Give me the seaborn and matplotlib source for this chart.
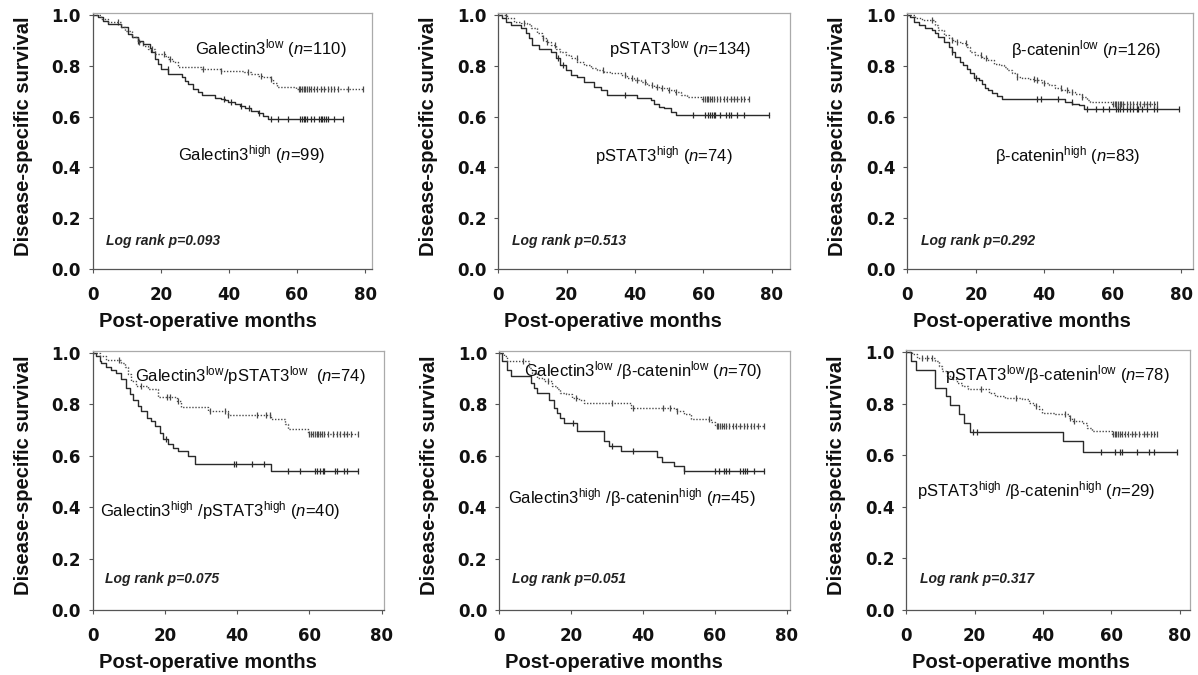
import numpy as np
import pandas as pd
import matplotlib
matplotlib.use("Agg")
import matplotlib.pyplot as plt
import seaborn as sns

sns.set_theme(style="white")
plt.rcParams["font.family"] = ["Liberation Sans", "DejaVu Sans"]
plt.rcParams["mathtext.fontset"] = "custom"
plt.rcParams["mathtext.rm"] = "Liberation Sans"
plt.rcParams["mathtext.it"] = "Liberation Sans:italic"
plt.rcParams["mathtext.bf"] = "Liberation Sans:bold"

# ---------------- data ----------------
x_ticks = [0, 20, 40, 60, 80]
y_ticks = [0.0, 0.2, 0.4, 0.6, 0.8, 1.0]
x_title = "Post-operative months"
y_title = "Disease-specific survival"

# Panel 1: Galectin3
gal_low_t = [0, 2.5, 4.5, 8.4, 9.4, 11.4, 13.3, 14.8, 16.3, 18.2, 21.2, 22.1, 23.6, 25.1, 31.9, 37.8, 44.5, 46.6, 48.6, 49.6, 52.0, 53.0, 54.0, 59.8, 79.4]
gal_low_s = [1.0, 0.984, 0.974, 0.951, 0.938, 0.912, 0.892, 0.879, 0.866, 0.846, 0.839, 0.826, 0.816, 0.797, 0.787, 0.780, 0.776, 0.767, 0.761, 0.754, 0.747, 0.732, 0.718, 0.708, 0.708]
gal_low_cens = [7.4, 13.5, 17.5, 21.0, 22.6, 32.5, 37.8, 45.6, 49.5, 52.5, 60.5, 61.0, 61.5, 62.0, 62.5, 63.0, 63.5, 64.0, 65.0, 66.0, 67.0, 68.0, 69.0, 70.0, 71.0, 72.0, 75.0, 79.4]
gal_high_t = [0, 1.6, 3.0, 4.5, 8.4, 10.4, 11.4, 13.3, 14.8, 16.7, 17.2, 18.2, 19.2, 20.2, 22.1, 26.1, 27.0, 28.0, 29.5, 31.0, 32.0, 35.8, 37.8, 38.8, 39.8, 41.7, 43.2, 44.7, 46.6, 48.6, 50.0, 51.6, 73.6]
gal_high_s = [1.0, 0.991, 0.978, 0.964, 0.951, 0.925, 0.912, 0.899, 0.886, 0.872, 0.853, 0.826, 0.807, 0.787, 0.767, 0.754, 0.741, 0.728, 0.708, 0.695, 0.684, 0.675, 0.671, 0.666, 0.658, 0.649, 0.642, 0.632, 0.622, 0.613, 0.603, 0.592, 0.592]
gal_high_cens = [13.3, 22.0, 38.5, 40.5, 43.5, 46.0, 49.0, 52.5, 54.5, 57.5, 61.0, 61.5, 62.0, 62.5, 63.0, 64.0, 65.0, 66.5, 67.0, 67.5, 68.0, 68.5, 69.0, 71.0, 73.6]

# Panel 2: pSTAT3
st_low_t = [0, 2.6, 4.6, 6.5, 8.5, 9.5, 11.4, 12.9, 13.9, 15.3, 16.8, 18.2, 19.7, 21.2, 23.1, 25.1, 27.0, 29.0, 30.9, 32.9, 35.8, 37.8, 39.7, 41.7, 43.6, 45.6, 47.0, 49.5, 51.4, 53.4, 55.3, 59.2, 73.4]
st_low_s = [1.0, 0.987, 0.974, 0.967, 0.963, 0.947, 0.928, 0.908, 0.895, 0.882, 0.868, 0.855, 0.842, 0.829, 0.816, 0.803, 0.792, 0.783, 0.776, 0.770, 0.763, 0.750, 0.743, 0.737, 0.726, 0.717, 0.711, 0.704, 0.695, 0.684, 0.678, 0.671, 0.671]
st_low_cens = [2.2, 7.5, 13.0, 14.2, 16.5, 23.0, 30.5, 37.0, 39.0, 40.5, 43.0, 45.0, 46.5, 48.0, 50.0, 52.0, 60.0, 60.5, 61.0, 61.5, 62.0, 62.5, 63.0, 64.0, 65.0, 66.0, 67.0, 68.0, 69.0, 70.0, 71.0, 72.0, 73.4]
st_high_t = [0, 1.2, 2.2, 3.6, 6.5, 8.0, 9.0, 10.0, 11.9, 15.3, 16.8, 18.2, 19.7, 21.2, 23.1, 25.1, 28.0, 30.0, 31.9, 40.7, 44.6, 45.6, 47.0, 48.5, 50.4, 51.9, 79.2]
st_high_s = [1.0, 0.987, 0.974, 0.961, 0.947, 0.928, 0.908, 0.882, 0.868, 0.855, 0.829, 0.803, 0.783, 0.763, 0.757, 0.737, 0.717, 0.704, 0.684, 0.674, 0.664, 0.651, 0.638, 0.632, 0.618, 0.608, 0.608]
st_high_cens = [17.5, 19.0, 37.0, 57.0, 60.5, 61.5, 62.0, 62.5, 63.0, 63.5, 65.0, 66.5, 67.5, 68.0, 70.0, 72.0, 79.2]

# Panel 3: beta-catenin
bc_low_t = [0, 2.3, 4.3, 8.2, 9.1, 10.6, 12.1, 13.0, 14.0, 16.0, 17.4, 18.4, 19.9, 21.8, 23.7, 25.2, 26.7, 28.1, 29.1, 30.6, 32.0, 33.5, 35.4, 37.4, 39.3, 41.3, 43.2, 45.2, 47.1, 49.1, 51.0, 52.5, 53.4, 59.8, 72.9]
bc_low_s = [1.0, 0.989, 0.980, 0.961, 0.941, 0.921, 0.908, 0.901, 0.895, 0.888, 0.875, 0.855, 0.842, 0.829, 0.822, 0.809, 0.803, 0.796, 0.783, 0.770, 0.757, 0.753, 0.747, 0.743, 0.734, 0.724, 0.713, 0.704, 0.697, 0.688, 0.678, 0.664, 0.658, 0.651, 0.651]
bc_low_cens = [7.3, 13.0, 14.5, 17.0, 21.5, 23.0, 32.0, 37.0, 38.0, 40.0, 45.0, 46.5, 48.0, 51.0, 60.0, 60.5, 61.0, 61.5, 62.0, 62.5, 63.0, 64.0, 65.0, 66.0, 67.0, 68.0, 69.0, 70.0, 71.0, 72.0, 72.9]
bc_high_t = [0, 0.9, 1.9, 3.3, 5.3, 7.2, 8.2, 9.1, 10.6, 12.1, 13.0, 14.0, 15.5, 16.4, 17.4, 18.4, 19.4, 20.8, 21.8, 22.8, 23.7, 24.7, 26.2, 27.6, 46.1, 48.1, 50.0, 51.5, 79.2]
bc_high_s = [1.0, 0.993, 0.974, 0.961, 0.947, 0.941, 0.928, 0.914, 0.895, 0.875, 0.855, 0.836, 0.816, 0.803, 0.789, 0.770, 0.750, 0.743, 0.730, 0.711, 0.704, 0.691, 0.682, 0.671, 0.658, 0.651, 0.645, 0.630, 0.630]
bc_high_cens = [13.0, 20.0, 38.0, 39.0, 44.0, 48.0, 52.5, 55.0, 57.0, 59.0, 61.0, 61.5, 62.0, 63.0, 64.0, 65.0, 66.0, 67.0, 67.5, 68.5, 70.0, 72.0, 73.0, 79.2]

# Panel 4: Galectin3 / pSTAT3
gs_low_t = [0, 1.9, 3.8, 7.9, 8.9, 9.8, 10.7, 12.1, 15.3, 18.1, 23.2, 24.5, 31.9, 37.5, 49.4, 53.1, 54.1, 59.6, 73.4]
gs_low_s = [1.0, 0.987, 0.974, 0.960, 0.946, 0.918, 0.892, 0.872, 0.858, 0.830, 0.815, 0.788, 0.775, 0.758, 0.742, 0.722, 0.703, 0.685, 0.685]
gs_low_cens = [7.3, 13.3, 20.5, 21.5, 23.5, 32.5, 36.5, 37.5, 45.5, 48.0, 49.0, 60.0, 60.5, 61.0, 61.5, 62.0, 62.5, 63.0, 63.5, 64.0, 65.0, 66.5, 67.5, 68.5, 69.5, 70.5, 71.5, 73.4]
gs_high_t = [0, 1.0, 1.9, 2.4, 3.8, 5.2, 6.5, 7.9, 9.3, 10.2, 11.2, 12.5, 13.5, 14.9, 16.2, 17.2, 18.5, 19.5, 20.8, 22.2, 23.6, 26.4, 28.2, 49.4, 73.4]
gs_high_s = [1.0, 0.988, 0.969, 0.962, 0.947, 0.934, 0.923, 0.897, 0.865, 0.839, 0.819, 0.794, 0.774, 0.748, 0.735, 0.716, 0.690, 0.664, 0.644, 0.631, 0.618, 0.599, 0.570, 0.540, 0.540]
gs_high_cens = [20.2, 39.0, 39.7, 44.0, 47.5, 54.0, 57.5, 61.5, 62.0, 63.0, 63.7, 64.0, 67.0, 67.5, 69.5, 70.5, 73.4]

# Panel 5: Galectin3 / beta-catenin
gb_low_t = [0, 1.4, 2.3, 8.3, 9.3, 10.7, 12.5, 14.8, 16.2, 17.1, 18.5, 20.4, 22.2, 23.6, 36.6, 49.1, 51.4, 53.3, 59.0, 60.2, 73.7]
gb_low_s = [1.0, 0.987, 0.968, 0.942, 0.923, 0.903, 0.890, 0.871, 0.858, 0.845, 0.839, 0.826, 0.819, 0.806, 0.787, 0.774, 0.762, 0.742, 0.730, 0.716, 0.716]
gb_low_cens = [6.7, 13.5, 21.5, 31.3, 37.3, 45.5, 47.6, 49.5, 58.4, 60.5, 61.0, 61.5, 62.0, 62.5, 63.0, 64.0, 65.0, 66.0, 67.0, 68.0, 69.0, 70.0, 71.0, 72.0, 73.7]
gb_high_t = [0, 0.9, 2.3, 3.2, 8.8, 9.7, 10.7, 13.9, 15.3, 16.2, 17.1, 18.1, 21.8, 29.2, 30.6, 33.8, 44.0, 45.4, 48.7, 51.4, 73.7]
gb_high_s = [1.0, 0.968, 0.935, 0.910, 0.884, 0.865, 0.845, 0.819, 0.787, 0.768, 0.748, 0.729, 0.697, 0.658, 0.639, 0.619, 0.594, 0.574, 0.561, 0.542, 0.542]
gb_high_cens = [20.5, 31.5, 37.3, 51.5, 60.0, 61.3, 62.5, 63.0, 64.0, 67.0, 67.8, 68.5, 69.0, 71.0, 73.7]

# Panel 6: pSTAT3 / beta-catenin
sb_low_t = [0, 1.7, 3.1, 8.5, 9.5, 10.4, 11.9, 13.4, 14.8, 16.3, 18.2, 24.1, 26.0, 29.0, 33.9, 35.8, 37.3, 38.7, 39.7, 43.6, 47.5, 48.5, 51.4, 52.9, 54.3, 60.2, 73.4]
sb_low_s = [1.0, 0.991, 0.978, 0.965, 0.946, 0.926, 0.907, 0.894, 0.881, 0.868, 0.855, 0.843, 0.830, 0.823, 0.817, 0.804, 0.791, 0.778, 0.765, 0.759, 0.746, 0.733, 0.724, 0.707, 0.694, 0.681, 0.681]
sb_low_cens = [4.5, 6.0, 7.5, 22.0, 32.0, 38.0, 46.5, 48.0, 49.0, 60.5, 61.0, 61.5, 62.0, 62.5, 63.0, 64.0, 65.0, 66.0, 67.0, 68.0, 69.5, 70.5, 71.5, 72.5, 73.4]
sb_high_t = [0, 1.5, 2.7, 8.3, 11.5, 12.7, 15.5, 17.0, 18.7, 45.9, 51.7, 79.2]
sb_high_s = [1.0, 0.966, 0.931, 0.862, 0.828, 0.793, 0.759, 0.724, 0.690, 0.655, 0.614, 0.614]
sb_high_cens = [19.5, 20.8, 57.0, 61.0, 62.5, 63.0, 67.5, 71.0, 72.5, 79.2]

label_low = [
    r"Galectin3$^{\mathrm{low}}$ ($\mathit{n}$=110)",
    r"pSTAT3$^{\mathrm{low}}$ ($\mathit{n}$=134)",
    r"β-catenin$^{\mathrm{low}}$ ($\mathit{n}$=126)",
    r"Galectin3$^{\mathrm{low}}$/pSTAT3$^{\mathrm{low}}$  ($\mathit{n}$=74)",
    r"Galectin3$^{\mathrm{low}}$ /β-catenin$^{\mathrm{low}}$ ($\mathit{n}$=70)",
    r"pSTAT3$^{\mathrm{low}}$/β-catenin$^{\mathrm{low}}$ ($\mathit{n}$=78)",
]
label_high = [
    r"Galectin3$^{\mathrm{high}}$ ($\mathit{n}$=99)",
    r"pSTAT3$^{\mathrm{high}}$ ($\mathit{n}$=74)",
    r"β-catenin$^{\mathrm{high}}$ ($\mathit{n}$=83)",
    r"Galectin3$^{\mathrm{high}}$ /pSTAT3$^{\mathrm{high}}$ ($\mathit{n}$=40)",
    r"Galectin3$^{\mathrm{high}}$ /β-catenin$^{\mathrm{high}}$ ($\mathit{n}$=45)",
    r"pSTAT3$^{\mathrm{high}}$ /β-catenin$^{\mathrm{high}}$ ($\mathit{n}$=29)",
]
log_rank = ["Log rank p=0.093", "Log rank p=0.513", "Log rank p=0.292",
            "Log rank p=0.075", "Log rank p=0.051", "Log rank p=0.317"]

curves = [
    ((gal_low_t, gal_low_s, gal_low_cens), (gal_high_t, gal_high_s, gal_high_cens)),
    ((st_low_t, st_low_s, st_low_cens), (st_high_t, st_high_s, st_high_cens)),
    ((bc_low_t, bc_low_s, bc_low_cens), (bc_high_t, bc_high_s, bc_high_cens)),
    ((gs_low_t, gs_low_s, gs_low_cens), (gs_high_t, gs_high_s, gs_high_cens)),
    ((gb_low_t, gb_low_s, gb_low_cens), (gb_high_t, gb_high_s, gb_high_cens)),
    ((sb_low_t, sb_low_s, sb_low_cens), (sb_high_t, sb_high_s, sb_high_cens)),
]

# ---------------- layout (pixel geometry of the reference) ----------------
W, H = 1198, 675
# (x0 px, px per month, xmax, y(1.0) px, y(0.0) px)
geom = [
    (92.7, 3.404, 82.0, 15, 269),
    (498.3, 3.417, 85.4, 15, 269),
    (907.3, 3.425, 83.4, 15, 269),
    (92.7, 3.6125, 80.5, 353, 610),
    (499.0, 3.596, 81.0, 353, 610),
    (906.3, 3.417, 83.0, 352, 610),
]
# text positions in data coords: low label, high label, log-rank
txt_low = [(30.0, 0.843), (32.5, 0.843), (30.4, 0.839), (11.7, 0.888), (7.0, 0.908), (11.2, 0.888)]
txt_high = [(25.1, 0.429), (28.3, 0.422), (25.7, 0.422), (2.0, 0.363), (2.6, 0.415), (3.2, 0.441)]
txt_lr = [(3.9, 0.094), (3.9, 0.094), (3.9, 0.094), (3.4, 0.104), (3.5, 0.104), (3.9, 0.104)]

YTOP = 1.007
fig = plt.figure(figsize=(W / 100, H / 100), dpi=100)

def draw_curve(ax, t, s, cens, color, ls, lw):
    df = pd.DataFrame({"t": t, "s": s})
    sns.lineplot(data=df, x="t", y="s", ax=ax, estimator=None, sort=False,
                 drawstyle="steps-post", color=color, linestyle=ls, linewidth=lw)
    t_arr = np.asarray(t)
    s_arr = np.asarray(s)
    idx = np.searchsorted(t_arr, cens, side="right") - 1
    cy = s_arr[idx]
    sns.scatterplot(x=cens, y=cy, ax=ax, marker="|", s=16, color=color,
                    linewidth=0.9, legend=False)

tick_font = dict(family="DejaVu Sans", size=12, weight="bold")

for i, (g, (low, high)) in enumerate(zip(geom, curves)):
    x0, ppm, xmax, ytop_px, ybot_px = g
    wpx = xmax * ppm
    hpx = (ybot_px - ytop_px) * YTOP
    ax = fig.add_axes([x0 / W, 1 - ybot_px / H, wpx / W, hpx / H])
    ax.set_facecolor("white")

    draw_curve(ax, *high, color="#2a2a2a", ls="-", lw=1.0)
    draw_curve(ax, *low, color="#4a4a4a", ls=(0, (1.0, 1.2)), lw=1.0)

    ax.set_xlim(0, xmax)
    ax.set_ylim(0, YTOP)
    ax.set_xticks(x_ticks)
    ax.set_yticks(y_ticks)
    ax.set_xticklabels([str(v) for v in x_ticks], fontdict=tick_font, color="#111")
    ax.set_yticklabels([f"{v:.1f}" for v in y_ticks], fontdict=tick_font, color="#111")
    ax.tick_params(axis="x", direction="out", length=3, width=0.8, color="#555", pad=9, bottom=True)
    ax.tick_params(axis="y", direction="out", length=3, width=0.8, color="#555", pad=5.5, left=True)

    for side in ["left", "bottom"]:
        ax.spines[side].set_color("#555")
        ax.spines[side].set_linewidth(0.9)
    for side in ["top", "right"]:
        ax.spines[side].set_color("#aaaaaa")
        ax.spines[side].set_linewidth(0.9)

    ax.set_xlabel(x_title, fontsize=14.5, fontweight="bold", color="#111")
    ax.xaxis.set_label_coords(115 / wpx, -43 / hpx)
    ax.set_ylabel(y_title, fontsize=14.5, fontweight="bold", color="#111")
    ax.yaxis.set_label_coords(-60 / wpx, 0.52)

    ax.text(*txt_low[i], label_low[i], fontsize=12, color="#0a0a0a", ha="left", va="baseline")
    ax.text(*txt_high[i], label_high[i], fontsize=12, color="#0a0a0a", ha="left", va="baseline")
    ax.text(*txt_lr[i], log_rank[i], fontsize=10, fontweight="bold", fontstyle="italic",
            color="#222", ha="left", va="baseline")

fig.savefig("out.png", dpi=100, facecolor="white")
